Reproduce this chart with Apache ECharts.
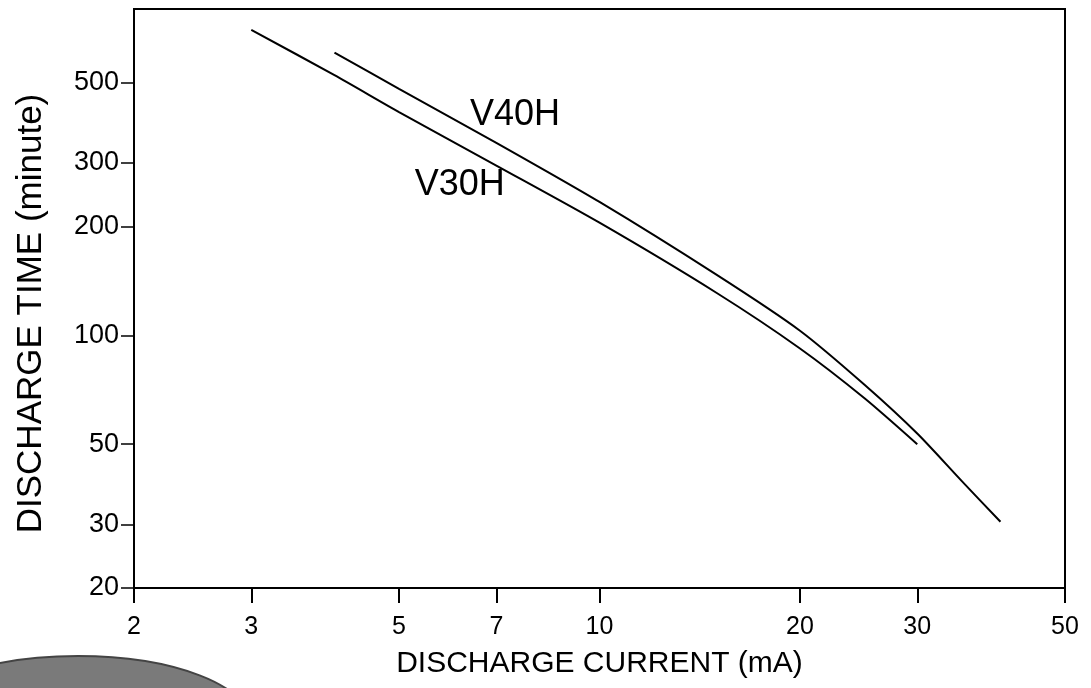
<!DOCTYPE html>
<html>
<head>
<meta charset="utf-8">
<script src="https://cdn.jsdelivr.net/npm/echarts@6/dist/echarts.min.js"></script>
<style>
html,body{margin:0;padding:0;background:#fff;}
#c{width:1091px;height:688px;}
</style>
</head>
<body>
<div id="c"></div>
<script>
// ---- data ----
const xTicks = [2, 3, 5, 7, 10, 20, 30, 50];
const yTicks = [20, 30, 50, 100, 200, 300, 500];
const v30hCurrent = [3, 4, 5, 7, 10, 15, 20, 25, 30];
const v30hTime    = [700, 525, 415, 295, 205, 131, 92, 67, 50];
const v40hCurrent = [4, 5, 7, 10, 15, 20, 25, 30, 35, 40];
const v40hTime    = [606, 481, 341, 234, 147, 103, 73, 53.5, 39.5, 30.5];
const seriesNames = ['V30H', 'V40H'];
const labelCurrent = [5.28, 6.39];
const labelTime = [232, 363];
const xRange = [2, 50];
const yRange = [20, 800];

const L = Math.log10;
const font = 'Liberation Sans, Arial, sans-serif';
function pts(xs, ys){ return xs.map((x,i)=>[L(x), L(ys[i])]); }
function fmt(v){ return String(Math.round(Math.pow(10, v))); }

const chart = echarts.init(document.getElementById('c'), null, {renderer:'canvas'});
chart.setOption({
  animation:false,
  backgroundColor:'#fff',
  grid:{left:134, right:26, top:9, bottom:100, show:true, borderColor:'#000', borderWidth:2, backgroundColor:'transparent'},
  xAxis:{
    type:'value', min:L(xRange[0]), max:L(xRange[1]),
    name:'DISCHARGE CURRENT (mA)', nameLocation:'middle', nameGap:61,
    nameTextStyle:{fontFamily:font, fontSize:30, color:'#000'},
    axisLine:{show:true, lineStyle:{color:'#000', width:2}},
    axisTick:{show:true, inside:false, length:15, lineStyle:{color:'#000', width:2}, customValues:xTicks.map(L)},
    axisLabel:{show:true, margin:27, fontFamily:font, fontSize:25, color:'#000', customValues:xTicks.map(L), formatter:fmt, showMinLabel:true, showMaxLabel:true},
    splitLine:{show:false}
  },
  yAxis:{
    type:'value', min:L(yRange[0]), max:L(yRange[1]),
    name:'DISCHARGE TIME (minute)', nameLocation:'middle', nameGap:85, nameRotate:90,
    nameTextStyle:{fontFamily:font, fontSize:35, color:'#000', padding:[0,30,0,0]},
    axisLine:{show:true, lineStyle:{color:'#000', width:2}},
    axisTick:{show:true, inside:false, length:13, lineStyle:{color:'#000', width:1.5}, customValues:yTicks.map(L)},
    axisLabel:{show:true, margin:15, fontFamily:font, fontSize:27, color:'#000', customValues:yTicks.map(L), formatter:fmt, showMinLabel:true},
    splitLine:{show:false}
  },
  series:[
    {
      name:seriesNames[0], type:'line', data:pts(v30hCurrent, v30hTime), smooth:0.25,
      symbol:'none', lineStyle:{color:'#000', width:2},
      markPoint:{symbol:'circle', symbolSize:0, silent:true,
        label:{show:true, formatter:seriesNames[0], position:[0,0], align:'left', verticalAlign:'bottom', fontFamily:font, fontSize:36, color:'#000'},
        data:[{coord:[L(labelCurrent[0]), L(labelTime[0])]}]}
    },
    {
      name:seriesNames[1], type:'line', data:pts(v40hCurrent, v40hTime), smooth:0.25,
      symbol:'none', lineStyle:{color:'#000', width:2},
      markPoint:{symbol:'circle', symbolSize:0, silent:true,
        label:{show:true, formatter:seriesNames[1], position:[0,0], align:'left', verticalAlign:'bottom', fontFamily:font, fontSize:36, color:'#000'},
        data:[{coord:[L(labelCurrent[1]), L(labelTime[1])]}]}
    }
  ],
  graphic:[
    {type:'ellipse', shape:{cx:78, cy:722, rx:172, ry:66}, style:{fill:'#7a7a7a', stroke:'#444', lineWidth:2}, silent:true, z:-1}
  ]
});
</script>
</body>
</html>
